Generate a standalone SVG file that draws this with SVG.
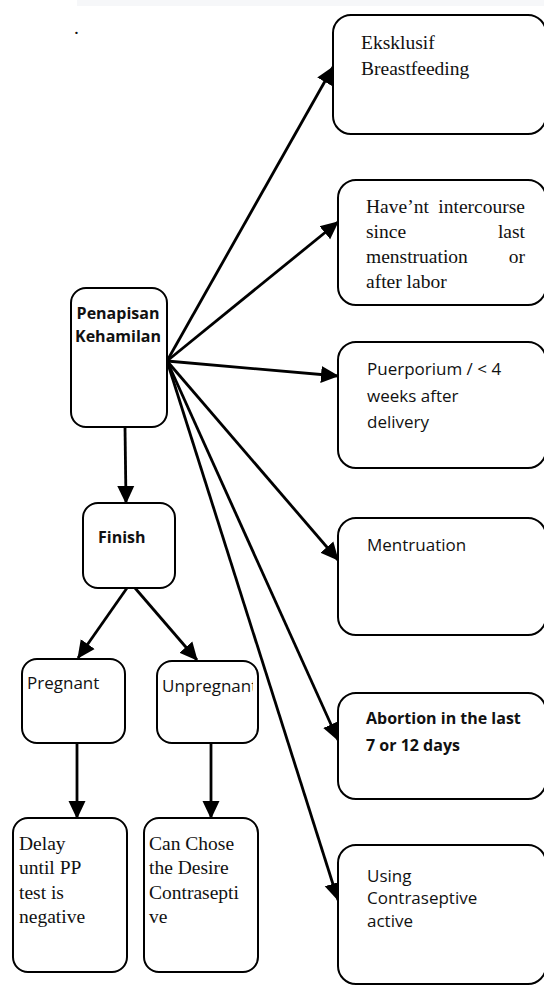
<svg xmlns="http://www.w3.org/2000/svg" width="544" height="986" viewBox="0 0 544 986">
<style>
.box{fill:#fff;stroke:#000;stroke-width:2}
.serif{font-family:"Liberation Serif","Times New Roman",serif;font-size:19.5px;fill:#111}
.sans{font-family:"Open Sans","Noto Sans",sans-serif;font-size:17px;fill:#111}
.bold{font-family:"Open Sans","Noto Sans",sans-serif;font-size:16px;font-weight:bold;fill:#111}
.con{stroke:#000;stroke-width:2.8;fill:none;marker-end:url(#ah)}
</style>
<defs>
<marker id="ah" markerUnits="userSpaceOnUse" markerWidth="18" markerHeight="18" refX="17" refY="9" orient="auto">
<path d="M0,0.5 L18,9 L0,17.5 z" fill="#000"/>
</marker>
<clipPath id="clipU"><rect x="157" y="661" width="96" height="82"/></clipPath>
</defs>
<rect x="77" y="0" width="467" height="6" fill="#f6f7f9"/>
<text class="serif" x="74" y="34">.</text>

<g id="connectors">
<line class="con" x1="167" y1="361" x2="333" y2="67"/>
<line class="con" x1="167" y1="361" x2="338" y2="222"/>
<line class="con" x1="167" y1="361" x2="338" y2="376"/>
<line class="con" x1="167" y1="361" x2="338" y2="560"/>
<line class="con" x1="167" y1="361" x2="338" y2="740"/>
<line class="con" x1="167" y1="361" x2="338" y2="900"/>
<line class="con" x1="125" y1="427" x2="126" y2="503"/>
<line class="con" x1="127" y1="588" x2="78" y2="658"/>
<line class="con" x1="135" y1="588" x2="197" y2="660"/>
<line class="con" x1="77" y1="743" x2="77" y2="818"/>
<line class="con" x1="211" y1="743" x2="211" y2="818"/>
</g>

<g id="eksklusif">
<rect class="box" x="333" y="15" width="213" height="119" rx="18"/>
<text class="serif" x="361" y="49">Eksklusif</text>
<text class="serif" x="361" y="75">Breastfeeding</text>
</g>

<g id="intercourse">
<rect class="box" x="338" y="180" width="208" height="125" rx="18"/>
<text class="serif" x="366" y="213">Have’nt</text>
<text class="serif" x="525" y="213" text-anchor="end">intercourse</text>
<text class="serif" x="366" y="238">since</text>
<text class="serif" x="525" y="238" text-anchor="end">last</text>
<text class="serif" x="366" y="263">menstruation</text>
<text class="serif" x="525" y="263" text-anchor="end">or</text>
<text class="serif" x="366" y="288">after labor</text>
</g>

<g id="puerporium">
<rect class="box" x="338" y="342" width="208" height="126" rx="18"/>
<text class="sans" x="367" y="375">Puerporium / &lt; 4</text>
<text class="sans" x="367" y="402">weeks after</text>
<text class="sans" x="367" y="428">delivery</text>
</g>

<g id="mentruation">
<rect class="box" x="338" y="518" width="208" height="117" rx="18"/>
<text class="sans" x="367" y="551">Mentruation</text>
</g>

<g id="abortion">
<rect class="box" x="338" y="693" width="208" height="106" rx="18"/>
<text class="bold" x="366" y="724">Abortion in the last</text>
<text class="bold" x="366" y="751">7 or 12 days</text>
</g>

<g id="contraseptive">
<rect class="box" x="338" y="845" width="208" height="139" rx="18"/>
<text class="sans" x="367" y="882">Using</text>
<text class="sans" x="367" y="904">Contraseptive</text>
<text class="sans" x="367" y="927">active</text>
</g>

<g id="penapisan">
<rect class="box" x="71" y="288" width="96" height="139" rx="15"/>
<text class="bold" x="118" y="319" text-anchor="middle">Penapisan</text>
<text class="bold" x="118" y="342" text-anchor="middle">Kehamilan</text>
</g>

<g id="finish">
<rect class="box" x="83" y="503" width="92" height="85" rx="15"/>
<text class="bold" x="98" y="543">Finish</text>
</g>

<g id="pregnant">
<rect class="box" x="22" y="659" width="103" height="84" rx="15"/>
<text class="sans" x="27" y="689">Pregnant</text>
</g>

<g id="unpregnant">
<rect class="box" x="157" y="661" width="101" height="82" rx="15"/>
<text class="sans" x="162" y="692" clip-path="url(#clipU)">Unpregnant</text>
</g>

<g id="delay">
<rect class="box" x="13" y="818" width="114" height="154" rx="15"/>
<text class="serif" x="19" y="850">Delay</text>
<text class="serif" x="19" y="874">until PP</text>
<text class="serif" x="19" y="899">test is</text>
<text class="serif" x="19" y="923">negative</text>
</g>

<g id="chose">
<rect class="box" x="144" y="818" width="114" height="154" rx="15"/>
<text class="serif" x="149" y="850">Can Chose</text>
<text class="serif" x="149" y="874">the Desire</text>
<text class="serif" x="149" y="899">Contrasepti</text>
<text class="serif" x="149" y="923">ve</text>
</g>
</svg>
